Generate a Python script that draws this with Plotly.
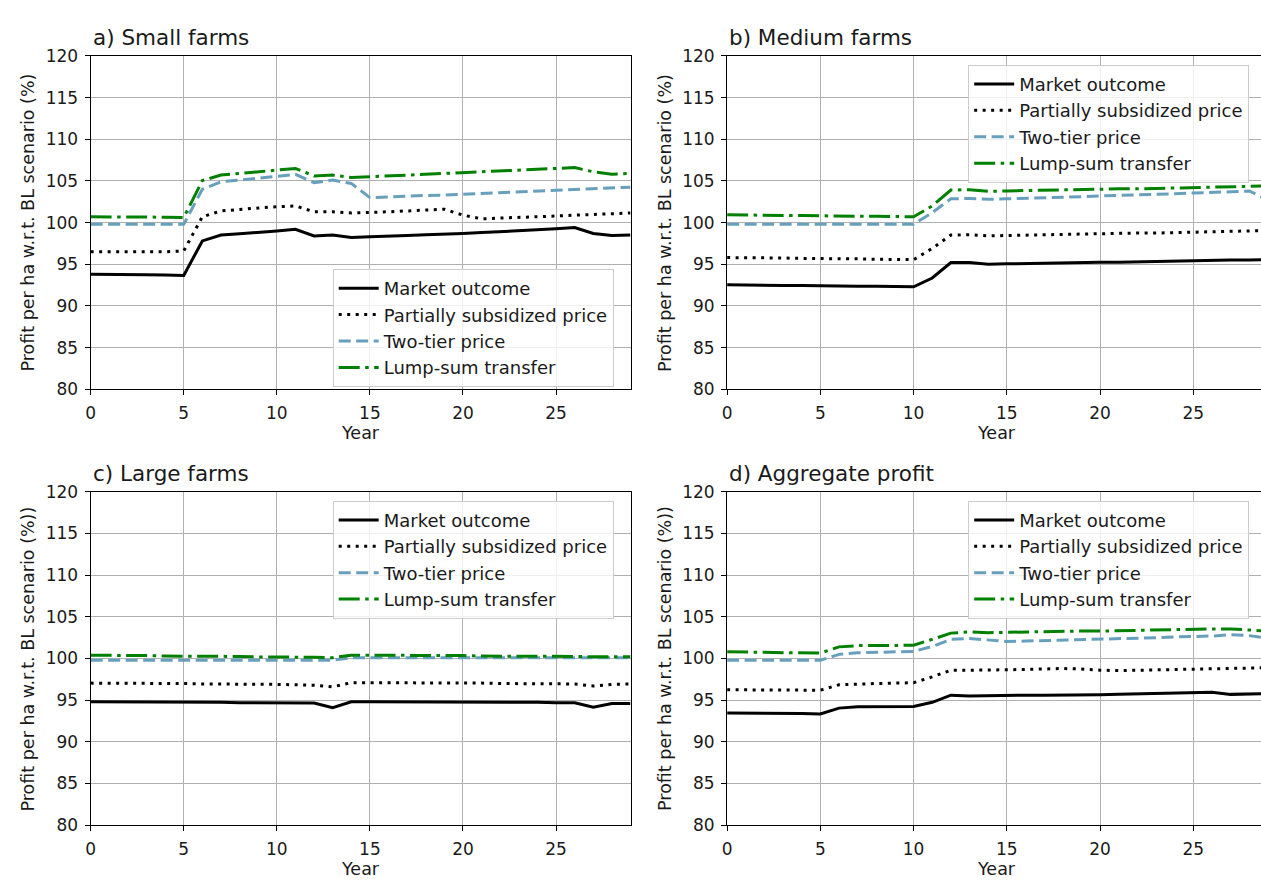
import plotly.graph_objects as go

W, H = 1261, 887

years = list(range(30))

# a) Small farms
small_market = [93.8, 93.8, 93.75, 93.75, 93.7, 93.65, 97.8, 98.5, 98.65, 98.8, 99.0, 99.2, 98.4, 98.5, 98.2, 98.3,
                98.35, 98.45, 98.55, 98.6, 98.7, 98.8, 98.9, 99.0, 99.1, 99.25, 99.4, 98.7, 98.45, 98.5]
small_partial = [96.5, 96.5, 96.5, 96.5, 96.5, 96.6, 100.7, 101.4, 101.6, 101.75, 101.9, 102.0, 101.3, 101.3, 101.15,
                 101.2, 101.3, 101.4, 101.5, 101.6, 100.9, 100.45, 100.55, 100.6, 100.7, 100.8, 100.9, 100.95, 101.05, 101.15]
small_twotier = [99.8, 99.8, 99.8, 99.8, 99.8, 99.8, 104.0, 104.9, 105.1, 105.3, 105.55, 105.8, 104.8, 105.1, 104.7,
                 103.0, 103.1, 103.2, 103.25, 103.3, 103.4, 103.5, 103.55, 103.65, 103.75, 103.9, 104.0, 104.1, 104.2, 104.25]
small_lump = [100.7, 100.7, 100.7, 100.65, 100.65, 100.6, 105.05, 105.7, 105.9, 106.1, 106.3, 106.5, 105.6, 105.7, 105.4,
              105.5, 105.6, 105.7, 105.8, 105.9, 106.05, 106.1, 106.2, 106.3, 106.4, 106.5, 106.6, 106.1, 105.8, 105.9]

# b) Medium farms
medium_market = [92.55, 92.5, 92.5, 92.45, 92.45, 92.4, 92.4, 92.35, 92.35, 92.3, 92.3, 93.35, 95.2, 95.2, 95.0,
                 95.05, 95.1, 95.1, 95.15, 95.2, 95.25, 95.25, 95.3, 95.3, 95.35, 95.4, 95.45, 95.5, 95.5, 95.55]
medium_partial = [95.8, 95.8, 95.75, 95.75, 95.7, 95.7, 95.65, 95.65, 95.6, 95.6, 95.55, 96.9, 98.5, 98.55, 98.4,
                  98.45, 98.5, 98.55, 98.6, 98.6, 98.65, 98.7, 98.75, 98.75, 98.8, 98.9, 98.95, 99.0, 99.0, 99.05]
medium_twotier = [99.8, 99.8, 99.8, 99.8, 99.8, 99.8, 99.8, 99.8, 99.8, 99.8, 99.8, 101.2, 102.85, 102.9, 102.8,
                  102.85, 102.9, 102.95, 103.05, 103.1, 103.2, 103.25, 103.3, 103.4, 103.45, 103.55, 103.6, 103.7, 103.8, 102.7]
medium_lump = [100.95, 100.9, 100.9, 100.85, 100.85, 100.8, 100.8, 100.75, 100.75, 100.7, 100.7, 102.0, 103.9, 103.95, 103.75,
               103.8, 103.85, 103.85, 103.9, 103.95, 104.0, 104.05, 104.05, 104.1, 104.15, 104.2, 104.25, 104.3, 104.35, 104.4]

# c) Large farms
large_market = [94.8, 94.8, 94.8, 94.8, 94.75, 94.75, 94.75, 94.75, 94.7, 94.7, 94.7, 94.7, 94.65, 94.1, 94.8,
                94.8, 94.8, 94.8, 94.8, 94.8, 94.8, 94.75, 94.75, 94.75, 94.75, 94.7, 94.7, 94.15, 94.6, 94.6]
large_partial = [97.05, 97.05, 97.0, 97.0, 97.0, 97.0, 96.95, 96.95, 96.95, 96.9, 96.9, 96.85, 96.8, 96.6, 97.1,
                 97.1, 97.1, 97.05, 97.05, 97.05, 97.05, 97.05, 97.0, 97.0, 97.0, 97.0, 96.95, 96.7, 96.9, 96.95]
large_twotier = [99.8, 99.8, 99.8, 99.8, 99.8, 99.8, 99.8, 99.8, 99.8, 99.8, 99.8, 99.8, 99.8, 99.8, 100.1,
                 100.1, 100.1, 100.1, 100.1, 100.1, 100.1, 100.1, 100.1, 100.1, 100.1, 100.1, 100.1, 100.1, 100.1, 100.1]
large_lump = [100.4, 100.4, 100.35, 100.35, 100.3, 100.3, 100.3, 100.25, 100.25, 100.2, 100.2, 100.15, 100.15, 100.1, 100.4,
              100.4, 100.4, 100.4, 100.35, 100.35, 100.35, 100.3, 100.3, 100.3, 100.3, 100.25, 100.25, 100.2, 100.2, 100.2]

# d) Aggregate profit
agg_market = [93.45, 93.45, 93.4, 93.4, 93.4, 93.35, 94.05, 94.2, 94.2, 94.25, 94.25, 94.75, 95.6, 95.5, 95.55,
              95.55, 95.6, 95.6, 95.6, 95.65, 95.65, 95.7, 95.75, 95.75, 95.8, 95.85, 95.95, 95.7, 95.8, 95.8]
agg_partial = [96.25, 96.25, 96.25, 96.2, 96.2, 96.2, 96.85, 96.95, 97.0, 97.05, 97.1, 97.8, 98.6, 98.6, 98.6,
               98.65, 98.7, 98.75, 98.8, 98.75, 98.6, 98.55, 98.6, 98.65, 98.7, 98.75, 98.8, 98.85, 98.9, 98.9]
agg_twotier = [99.8, 99.8, 99.8, 99.8, 99.8, 99.8, 100.5, 100.7, 100.75, 100.8, 100.85, 101.45, 102.3, 102.4, 102.2,
               102.05, 102.1, 102.15, 102.2, 102.3, 102.35, 102.4, 102.45, 102.5, 102.6, 102.65, 102.7, 102.85, 102.75, 102.45]
agg_lump = [100.8, 100.8, 100.75, 100.7, 100.7, 100.65, 101.4, 101.55, 101.55, 101.6, 101.6, 102.3, 103.05, 103.2, 103.1,
            103.15, 103.2, 103.2, 103.25, 103.3, 103.3, 103.35, 103.4, 103.4, 103.45, 103.5, 103.55, 103.55, 103.45, 103.3]

series_names = ["Market outcome", "Partially subsidized price", "Two-tier price", "Lump-sum transfer"]
panel_titles = ["a) Small farms", "b) Medium farms", "c) Large farms", "d) Aggregate profit"]
ylabels = ["Profit per ha w.r.t. BL scenario (%)", "Profit per ha w.r.t. BL scenario (%)",
           "Profit per ha w.r.t. BL scenario (%))", "Profit per ha w.r.t. BL scenario (%))"]
xlabel = "Year"
yticks = [80, 85, 90, 95, 100, 105, 110, 115, 120]
xticks = [0, 5, 10, 15, 20, 25]

panels_data = [
    [small_market, small_partial, small_twotier, small_lump],
    [medium_market, medium_partial, medium_twotier, medium_lump],
    [large_market, large_partial, large_twotier, large_lump],
    [agg_market, agg_partial, agg_twotier, agg_lump],
]

styles = [
    dict(color="black", dash="solid"),
    dict(color="black", dash="3px,5.5px"),
    dict(color="#67a0bd", dash="12px,5.5px"),
    dict(color="green", dash="21px,5.5px,3.5px,5.5px"),
]

FONT = "DejaVu Sans"
TXT = "#1a1a1a"

# pixel geometry of the four plot areas: (left, right, top, bottom), x-range end
left_l, left_r = 86, 628
right_l, right_r = 725, 1261
top_t, top_b = 47, 388
bot_t, bot_b = 493, 834
geom = [
    (left_l, left_r, top_t, top_b, 29.0, True),
    (right_l, right_r, top_t, top_b, 28.63, False),
    (left_l, left_r, bot_t, bot_b, 29.0, True),
    (right_l, right_r, bot_t, bot_b, 28.63, False),
]
legend_pos = [(329, 265), (967, 56), (329, 502), (967, 502)]

def px(x):
    return x / W

def py(y):
    return 1 - y / H

fig = go.Figure()
layout = dict(
    width=W, height=H,
    margin=dict(l=0, r=0, t=0, b=0),
    paper_bgcolor="white", plot_bgcolor="white",
    font=dict(family=FONT, size=17, color=TXT),
    annotations=[],
)

for i in range(4):
    xa = "x" if i == 0 else f"x{i+1}"
    ya = "y" if i == 0 else f"y{i+1}"
    lg = "legend" if i == 0 else f"legend{i+1}"
    for j in range(4):
        fig.add_trace(go.Scatter(
            x=years, y=panels_data[i][j], mode="lines", name=series_names[j],
            line=dict(color=styles[j]["color"], dash=styles[j]["dash"], width=3),
            xaxis=xa, yaxis=ya, legend=lg, legendgroup=f"g{i}_{j}", showlegend=True,
        ))
    l, r, t, b, xend, full_box = geom[i]
    axis_common = dict(
        showgrid=True, gridcolor="#b0b0b0", gridwidth=1,
        showline=True, linecolor="black", linewidth=1.2,
        ticks="outside", ticklen=5, tickwidth=1.2, tickcolor="black",
        zeroline=False, tickfont=dict(family=FONT, size=17, color=TXT),
        ticklabelstandoff=3,
    )
    layout["xaxis" if i == 0 else f"xaxis{i+1}"] = dict(
        axis_common, domain=[px(l), px(r)], range=[0, xend], tickvals=xticks,
        anchor=ya, mirror=True,
    )
    layout["yaxis" if i == 0 else f"yaxis{i+1}"] = dict(
        axis_common, domain=[py(b), py(t)], range=[80, 120], tickvals=yticks,
        anchor=xa, mirror=full_box,
    )
    lx, ly = legend_pos[i]
    layout[lg] = dict(
        x=px(lx), y=py(ly), xanchor="left", yanchor="top",
        xref="paper", yref="paper",
        bgcolor="rgba(255,255,255,0.8)", bordercolor="#cccccc", borderwidth=1,
        font=dict(family=FONT, size=18, color=TXT),
        tracegroupgap=6, traceorder="normal", itemwidth=40,
    )
    # panel title
    layout["annotations"].append(dict(
        text=panel_titles[i], x=px(l), y=py(t - 19), xref="paper", yref="paper",
        xanchor="left", yanchor="middle", showarrow=False,
        font=dict(family=FONT, size=21.5, color=TXT),
    ))
    # x label
    layout["annotations"].append(dict(
        text=xlabel, x=px(l + 14.5 * 18.67), y=py(b + 45), xref="paper", yref="paper",
        xanchor="center", yanchor="middle", showarrow=False,
        font=dict(family=FONT, size=17.5, color=TXT),
    ))
    # y label
    layout["annotations"].append(dict(
        text=ylabels[i], x=px(l - 63), y=py((t + b) / 2), xref="paper", yref="paper",
        xanchor="center", yanchor="middle", showarrow=False, textangle=-90,
        font=dict(family=FONT, size=17.5, color=TXT),
    ))

fig.update_layout(**layout)
fig.write_html(
    "out.html",
    config={"displayModeBar": False},
    post_script="document.body.style.margin='0';document.body.style.padding='0';document.body.style.overflow='hidden';",
)
